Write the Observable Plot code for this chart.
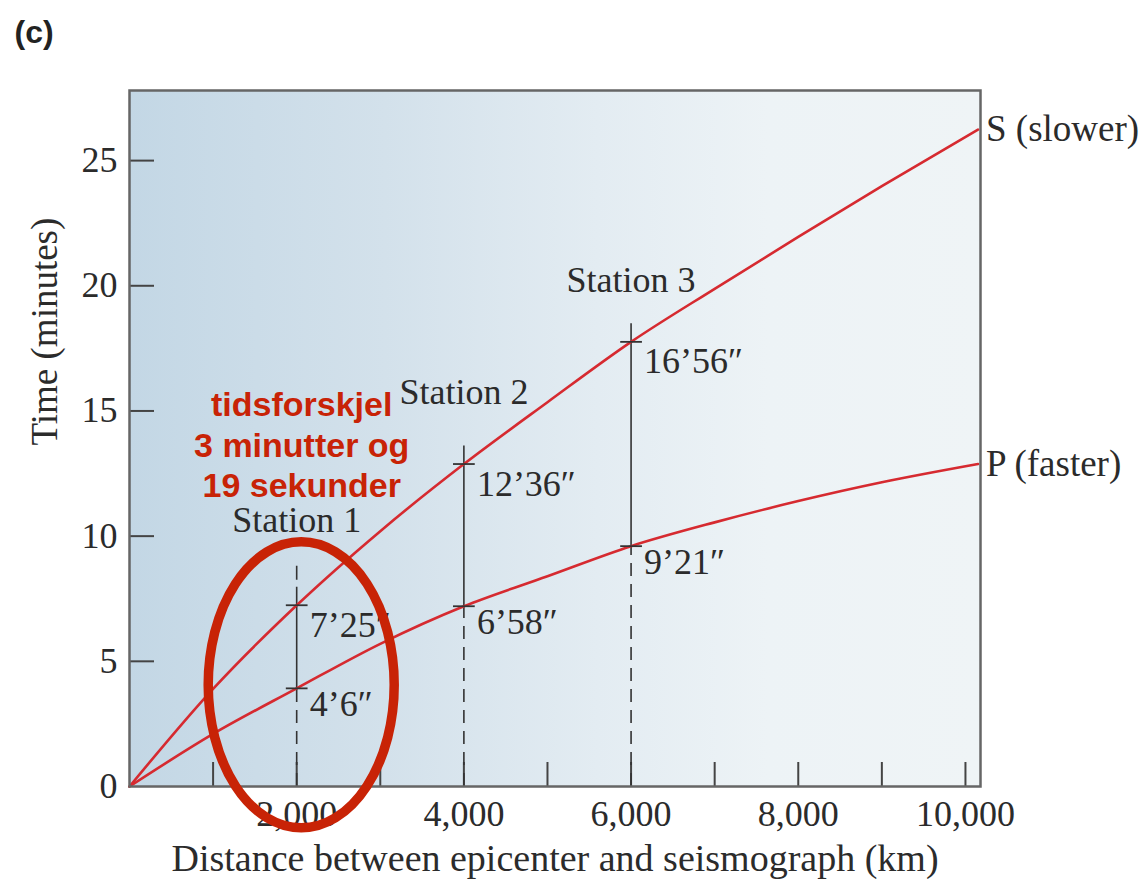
<!DOCTYPE html>
<html><head><meta charset="utf-8">
<script src="https://cdn.jsdelivr.net/npm/d3@7"></script>
<script src="https://cdn.jsdelivr.net/npm/@observablehq/plot@0.6"></script>
<style>body{margin:0;background:#fff;} #chart{width:1143px;height:879px;}</style>
</head><body><div id="chart"></div>
<script>
// ---- data ----
const sDist = [0, 1000, 2000, 3000, 4000, 5000, 6000, 7000, 8000, 9000, 10150];
const sTime = [0, 3.9, 7.24, 10.2, 12.88, 15.35, 17.76, 19.88, 21.95, 23.98, 26.24];
const pDist = [0, 1000, 2000, 3000, 4000, 5000, 6000, 7000, 8000, 9000, 10150];
const pTime = [0, 2.1, 3.92, 5.7, 7.2, 8.4, 9.6, 10.55, 11.4, 12.15, 12.88];
const stations = ["Station 1", "Station 2", "Station 3"];
const stationDist = [2000, 4000, 6000];
const stationS = [7.24, 12.88, 17.76];
const stationP = [3.92, 7.2, 9.6];
const stationSLabel = ["7\u201925\u2033", "12\u201936\u2033", "16\u201956\u2033"];
const stationPLabel = ["4\u20196\u2033", "6\u201958\u2033", "9\u201921\u2033"];
const stationTop = [8.8, 13.72, 18.72];
const stationLabelY = [10.62, 15.72, 20.2];
const xMinorTicks = [1000, 2000, 3000, 4000, 5000, 6000, 7000, 8000, 9000, 10000];
const xTickLabels = [2000, 4000, 6000, 8000, 10000];
const yTicks = [0, 5, 10, 15, 20, 25];
const seriesNames = ["S (slower)", "P (faster)"];
const xLabel = "Distance between epicenter and seismograph (km)";
const yLabel = "Time (minutes)";
const panelLabel = "(c)";
const noteText = "tidsforskjel\n3 minutter og\n19 sekunder";
const noteAt = [2060, 13.7];
const ellipseAt = [2060, 4.04];

// ---- layout ----
const W = 1143, H = 879;
const mL = 129, mT = 90, mR = 163, mB = 93;
const innerW = W - mL - mR, innerH = H - mT - mB;
const serif = "'Liberation Serif', 'Times New Roman', serif";
const sans = "'Liberation Sans', Arial, sans-serif";
const red = "#d62a30";
const noteRed = "#c82306";
const ink = "#2b2b2b";

const sData = sDist.map((d, i) => ({x: d, y: sTime[i]}));
const pData = pDist.map((d, i) => ({x: d, y: pTime[i]}));
const st = stations.map((name, i) => ({
  name, x: stationDist[i], s: stationS[i], p: stationP[i],
  sl: stationSLabel[i], pl: stationPLabel[i], top: stationTop[i], ly: stationLabelY[i]
}));
const ends = [
  {x: sDist[sDist.length - 1], y: sTime[sTime.length - 1], t: seriesNames[0]},
  {x: pDist[pDist.length - 1], y: pTime[pTime.length - 1], t: seriesNames[1]}
];

const plot = Plot.plot({
  width: W, height: H,
  marginLeft: mL, marginTop: mT, marginRight: mR, marginBottom: mB,
  style: {fontFamily: serif, fontSize: "36px", color: ink, background: "transparent", overflow: "visible"},
  x: {domain: [0, 10180]},
  y: {domain: [0, 27.8]},
  marks: [
    Plot.frame({fill: "url(#bgGrad)", stroke: "none"}),
    // axis tick labels
    Plot.axisX({ticks: xTickLabels, tickSize: 0, tickPadding: 14, tickFormat: d3.format(","), label: null, fontSize: 36, fontFamily: serif, fill: ink}),
    Plot.axisY({ticks: yTicks, tickSize: 0, tickPadding: 12, label: null, fontSize: 36, fontFamily: serif, fill: ink}),
    // inward tick marks
    Plot.tickX(xMinorTicks, {x: d => d, insetTop: innerH - 24, stroke: "#444", strokeWidth: 2}),
    Plot.tickY(yTicks.filter(d => d > 0), {y: d => d, insetRight: innerW - 25, stroke: "#444", strokeWidth: 2}),
    // station verticals
    Plot.ruleX(st, {x: "x", y1: 0, y2: "p", stroke: "#333", strokeWidth: 1.6, strokeDasharray: "13,8"}),
    Plot.ruleX(st, {x: "x", y1: "s", y2: "top", stroke: "#333", strokeWidth: 1.6, strokeDasharray: "18,7"}),
    Plot.ruleX(st, {x: "x", y1: "p", y2: "s", stroke: "#333", strokeWidth: 1.6}),
    // curves
    Plot.line(sData, {x: "x", y: "y", stroke: red, strokeWidth: 2.6, curve: "monotone-x"}),
    Plot.line(pData, {x: "x", y: "y", stroke: red, strokeWidth: 2.6, curve: "monotone-x"}),
    // small crossing ticks
    Plot.link(st, {x1: d => d.x - 130, x2: d => d.x + 130, y1: "s", y2: "s", stroke: "#333", strokeWidth: 1.8}),
    Plot.link(st, {x1: d => d.x - 130, x2: d => d.x + 130, y1: "p", y2: "p", stroke: "#333", strokeWidth: 1.8}),
    // time labels
    Plot.text(st, {x: "x", y: "s", text: "sl", dx: 13, dy: 20, textAnchor: "start", fontSize: 36, fontFamily: serif, fill: ink}),
    Plot.text(st, {x: "x", y: "p", text: "pl", dx: 13, dy: 16, textAnchor: "start", fontSize: 36, fontFamily: serif, fill: ink}),
    // station names
    Plot.text(st, {x: "x", y: "ly", text: "name", fontSize: 36, fontFamily: serif, fill: ink}),
    // series labels
    Plot.text(ends, {x: "x", y: "y", text: "t", dx: 8, textAnchor: "start", fontSize: 37, fontFamily: serif, fill: ink}),
    // axis titles
    Plot.text([xLabel], {frameAnchor: "bottom", dy: 72, lineAnchor: "middle", text: d => d, fontSize: 38, fontFamily: serif, fill: ink}),
    Plot.text([yLabel], {frameAnchor: "left", dx: -84, dy: 7, rotate: -90, text: d => d, fontSize: 37, fontFamily: serif, fill: ink}),
    // panel label
    Plot.text([panelLabel], {frameAnchor: "top-left", dx: -115, dy: -58, lineAnchor: "middle", textAnchor: "start", text: d => d, fontSize: 32, fontWeight: "bold", fontFamily: sans, fill: "#222"}),
    // annotation
    Plot.text([noteText], {x: () => noteAt[0], y: () => noteAt[1], text: d => d, lineHeight: 1.2, fontSize: 34, fontWeight: "bold", fontFamily: sans, fill: noteRed}),
    Plot.frame({stroke: "#666", strokeWidth: 2.5})
  ]
});

// gradient background definition + annotation ellipse
const svg = d3.select(plot);
const defs = svg.insert("defs", ":first-child");
const g = defs.append("linearGradient").attr("id", "bgGrad").attr("x1", "0").attr("x2", "1").attr("y1", "0").attr("y2", "0");
[["0%", "#c3d7e5"], ["30%", "#d3e1eb"], ["55%", "#e3ecf2"], ["75%", "#edf3f6"], ["100%", "#eff4f6"]]
  .forEach(([o, c]) => g.append("stop").attr("offset", o).attr("stop-color", c));
svg.append("ellipse")
  .attr("cx", plot.scale("x").apply(ellipseAt[0]))
  .attr("cy", plot.scale("y").apply(ellipseAt[1]))
  .attr("rx", 93).attr("ry", 143)
  .attr("fill", "none").attr("stroke", noteRed).attr("stroke-width", 9.5);

document.getElementById("chart").appendChild(plot);
</script>
</body></html>
